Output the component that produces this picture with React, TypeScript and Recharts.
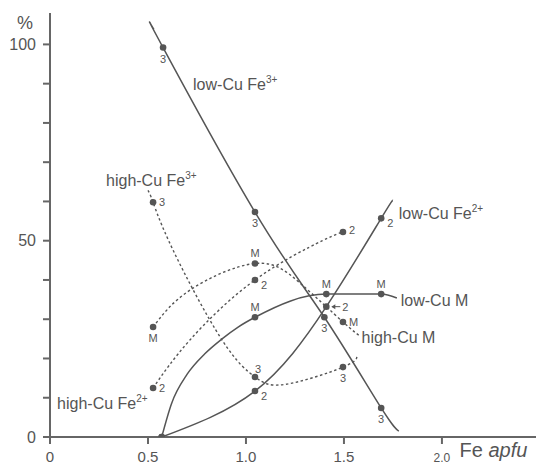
import React from 'react';
import { ComposedChart, Line, XAxis, YAxis, ReferenceDot } from 'recharts';

// points; tag = label next to a marker ('' = marker, no label)
type Pt = { x: number; y: number; tag?: string };

const lowCuFe3: Pt[] = [
  { x: 0.53, y: 103.8 },
  { x: 0.577, y: 99.2, tag: '3' },
  { x: 1.046, y: 57.3, tag: '3' },
  { x: 1.4, y: 30.5, tag: '3' },
  { x: 1.69, y: 7.4, tag: '3' },
  { x: 1.78, y: 1.5 },
];
const lowCuFe2: Pt[] = [
  { x: 0.57, y: 0, tag: '' },
  { x: 1.046, y: 11.7, tag: '2' },
  { x: 1.41, y: 33.2, tag: '2' },
  { x: 1.69, y: 55.7, tag: '2' },
  { x: 1.75, y: 60.3 },
];
const lowCuM: Pt[] = [
  { x: 0.57, y: 0, tag: '' },
  { x: 0.62, y: 8.5 },
  { x: 0.7, y: 16 },
  { x: 0.79, y: 21.2 },
  { x: 0.878, y: 25 },
  { x: 0.96, y: 28 },
  { x: 1.046, y: 30.5, tag: 'M' },
  { x: 1.41, y: 36.4, tag: 'M' },
  { x: 1.69, y: 36.4, tag: 'M' },
  { x: 1.77, y: 35.4 },
];
const highCuFe3: Pt[] = [
  { x: 0.5, y: 62.8 },
  { x: 0.526, y: 59.8, tag: '3' },
  { x: 0.628, y: 47.6 },
  { x: 0.878, y: 24.7 },
  { x: 1.046, y: 15.3, tag: '3' },
  { x: 1.2, y: 13.4 },
  { x: 1.495, y: 17.8, tag: '3' },
  { x: 1.566, y: 20.6 },
];
const highCuFe2: Pt[] = [
  { x: 0.526, y: 12.5, tag: '2' },
  { x: 0.714, y: 24.7 },
  { x: 1.046, y: 40, tag: '2' },
  { x: 1.39, y: 50 },
  { x: 1.495, y: 52.2, tag: '2' },
];
const highCuM: Pt[] = [
  { x: 0.526, y: 28, tag: 'M' },
  { x: 0.714, y: 37.4 },
  { x: 1.046, y: 44.2, tag: 'M' },
  { x: 1.276, y: 39.2 },
  { x: 1.495, y: 29.3, tag: 'M' },
  { x: 1.58, y: 25.8 },
];

const xTicks = [0, 0.5, 1, 1.5, 2];
const xTickLabels = ['0', '0.5', '1.0', '1.5', '2.0'];
const yTicks = [0, 10, 20, 30, 40, 50, 60, 70, 80, 90, 100];
const yTickLabels: Record<number, string> = { 0: '0', 50: '50', 100: '100' };

const INK = '#555';
const AXIS = '#666';
const FONT = '"Liberation Sans", Arial, Helvetica, sans-serif';

// where each tagged point's label sits (in order of the labelled points)
const PLACE = {
  lowCuFe3: ['b', 'b', 'b', 'b'],
  lowCuFe2: ['br', 'arrow', 'br'],
  lowCuM: ['t', 't', 't'],
  highCuFe3: ['r', 'tr', 'b'],
  highCuFe2: ['r', 'br', 'r2'],
  highCuM: ['b', 't', 'r'],
};

const makeDot = (data: Pt[], places: string[]) => (props: any) => {
  const { cx, cy, index } = props;
  const p = data[index];
  if (!p || p.tag === undefined) return <g key={`d-${index}`} />;
  const ord = data.slice(0, index + 1).filter((d) => d.tag).length - 1;
  const kind = p.tag ? places[ord] : '';
  let label: React.ReactNode = null;
  const ts = { fontSize: 11, fill: INK, fontFamily: FONT };
  if (kind === 'b') label = <text x={cx} y={cy + 15} textAnchor="middle" {...ts}>{p.tag}</text>;
  if (kind === 't') label = <text x={cx} y={cy - 6} textAnchor="middle" {...ts}>{p.tag}</text>;
  if (kind === 'r') label = <text x={cx + 6} y={cy + 4} {...ts}>{p.tag}</text>;
  if (kind === 'r2') label = <text x={cx + 6} y={cy + 2} {...ts}>{p.tag}</text>;
  if (kind === 'br') label = <text x={cx + 6} y={cy + 9} {...ts}>{p.tag}</text>;
  if (kind === 'tr') label = <text x={cx} y={cy - 4} {...ts}>{p.tag}</text>;
  if (kind === 'arrow')
    label = (
      <g>
        <line x1={cx + 6} y1={cy} x2={cx + 14} y2={cy} stroke={INK} strokeWidth={1} />
        <path d={`M${cx + 5},${cy} l4,-2.5 l0,5 z`} fill={INK} />
        <text x={cx + 16} y={cy + 4} {...ts}>{p.tag}</text>
      </g>
    );
  return (
    <g key={`d-${index}`}>
      <circle cx={cx} cy={cy} r={3.3} fill={INK} />
      {label}
    </g>
  );
};

const SeriesName = ({ name, sup }: { name: string; sup?: string }) => (props: any) => (
  <text x={props.cx} y={props.cy + 6} fontSize={16} fill={INK} fontFamily={FONT}>
    {name}
    {sup && (
      <tspan fontSize={10} dy={-7}>
        {sup}
      </tspan>
    )}
  </text>
);

const XTick = (props: any) => {
  const { x, y, payload } = props;
  const i = xTicks.indexOf(payload.value);
  const last = payload.value === 2;
  return (
    <text x={x} y={y + 16} textAnchor="middle" fontSize={last ? 12 : 15} fill={INK} fontFamily={FONT}>
      {xTickLabels[i]}
    </text>
  );
};

const YTick = (props: any) => {
  const { x, y, payload } = props;
  const s = yTickLabels[payload.value];
  if (!s) return <g />;
  return (
    <text x={x - 5} y={y + 5.5} textAnchor="end" fontSize={16} fill={INK} fontFamily={FONT}>
      {s}
    </text>
  );
};

const solid = { stroke: INK, strokeWidth: 1.5 };
const dotted = { stroke: INK, strokeWidth: 1.4, strokeDasharray: '2.5 2.5' };

export default function App() {
  return (
    <div style={{ position: 'absolute', left: 0, top: 0, background: '#fff', fontFamily: FONT }}>
      <ComposedChart width={536} height={466} margin={{ top: 13, right: 0, bottom: 0, left: 0 }}>
        <XAxis
          type="number"
          dataKey="x"
          domain={[0, 2.48]}
          ticks={xTicks}
          tickSize={7}
          height={29}
          axisLine={{ stroke: AXIS, strokeWidth: 2 }}
          tickLine={{ stroke: AXIS, strokeWidth: 2 }}
          tick={<XTick />}
          allowDataOverflow
        />
        <YAxis
          type="number"
          dataKey="y"
          domain={[0, 108]}
          ticks={yTicks}
          tickSize={7}
          width={50}
          axisLine={{ stroke: AXIS, strokeWidth: 2 }}
          tickLine={{ stroke: AXIS, strokeWidth: 2 }}
          tick={<YTick />}
          allowDataOverflow
        />
        <Line data={lowCuFe3} dataKey="y" type="natural" {...solid} dot={makeDot(lowCuFe3, PLACE.lowCuFe3)} activeDot={false} isAnimationActive={false} />
        <Line data={lowCuFe2} dataKey="y" type="natural" {...solid} dot={makeDot(lowCuFe2, PLACE.lowCuFe2)} activeDot={false} isAnimationActive={false} />
        <Line data={lowCuM} dataKey="y" type="monotone" {...solid} dot={makeDot(lowCuM, PLACE.lowCuM)} activeDot={false} isAnimationActive={false} />
        <Line data={highCuFe3} dataKey="y" type="natural" {...dotted} dot={makeDot(highCuFe3, PLACE.highCuFe3)} activeDot={false} isAnimationActive={false} />
        <Line data={highCuFe2} dataKey="y" type="natural" {...dotted} dot={makeDot(highCuFe2, PLACE.highCuFe2)} activeDot={false} isAnimationActive={false} />
        <Line data={highCuM} dataKey="y" type="natural" {...dotted} dot={makeDot(highCuM, PLACE.highCuM)} activeDot={false} isAnimationActive={false} />

        <ReferenceDot x={0.73} y={89.9} r={0} ifOverflow="visible" shape={SeriesName({ name: 'low-Cu Fe', sup: '3+' })} />
        <ReferenceDot x={0.286} y={65.5} r={0} ifOverflow="visible" shape={SeriesName({ name: 'high-Cu Fe', sup: '3+' })} />
        <ReferenceDot x={1.78} y={57} r={0} ifOverflow="visible" shape={SeriesName({ name: 'low-Cu Fe', sup: '2+' })} />
        <ReferenceDot x={1.79} y={34.9} r={0} ifOverflow="visible" shape={SeriesName({ name: 'low-Cu M' })} />
        <ReferenceDot x={1.59} y={25.5} r={0} ifOverflow="visible" shape={SeriesName({ name: 'high-Cu M' })} />
        <ReferenceDot x={0.036} y={8.7} r={0} ifOverflow="visible" shape={SeriesName({ name: 'high-Cu Fe', sup: '2+' })} />
        <ReferenceDot
          x={-0.128}
          y={105.5}
          r={0}
          ifOverflow="visible"
          shape={(p: any) => (
            <text x={p.cx} y={p.cy + 6} textAnchor="middle" fontSize={18} fill={INK} fontFamily={FONT}>
              %
            </text>
          )}
        />
        <ReferenceDot
          x={2.09}
          y={-3.3}
          r={0}
          ifOverflow="visible"
          shape={(p: any) => (
            <text x={p.cx} y={p.cy + 7} fontSize={20} fill={INK} fontFamily={FONT}>
              Fe <tspan fontStyle="italic">apfu</tspan>
            </text>
          )}
        />
      </ComposedChart>
    </div>
  );
}
